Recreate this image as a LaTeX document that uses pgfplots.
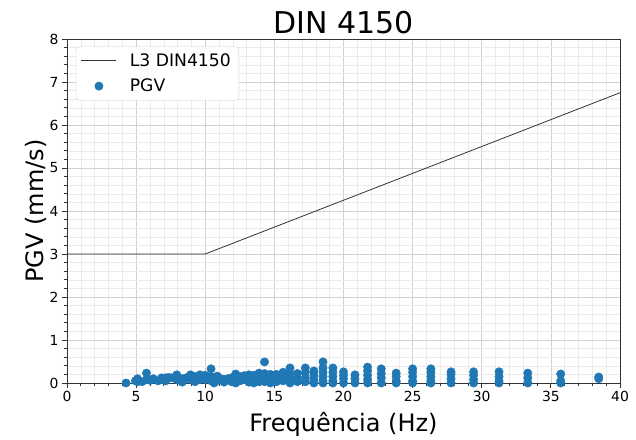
\documentclass[border=0pt]{standalone}
\usepackage{pgfplots}
\pgfplotsset{compat=1.18}
\usepackage{pgfplotstable}
\usepackage{fontspec}
\setmainfont{DejaVu Sans}
\definecolor{mplblue}{HTML}{1F77B4}
\pgfplotsset{
  lineleg/.style={legend image code/.code={\draw[##1] (0bp,0bp) -- (35bp,0bp);}},
  markleg/.style={legend image code/.code={\path[draw=none,fill=none] (0bp,0bp) -- (35bp,0bp); \draw[##1, only marks] plot coordinates {(17.5bp,0bp)};}},
}
\pgfplotstableread{
x y
38.46 0.14
38.46 0.10
35.71 0.21
35.71 0.05
35.71 0.00
33.33 0.23
33.33 0.12
33.33 0.00
31.25 0.26
31.25 0.15
31.25 0.05
31.25 0.00
29.41 0.26
29.41 0.18
29.41 0.08
29.41 0.00
27.78 0.26
27.78 0.20
27.78 0.10
27.78 0.00
26.32 0.33
26.32 0.25
26.32 0.15
26.32 0.05
26.32 0.00
25.00 0.33
25.00 0.25
25.00 0.15
25.00 0.05
25.00 0.00
23.81 0.23
23.81 0.15
23.81 0.05
23.81 0.00
22.73 0.33
22.73 0.22
22.73 0.12
22.73 0.00
21.74 0.37
21.74 0.28
21.74 0.18
21.74 0.08
21.74 0.00
20.83 0.19
20.83 0.10
20.83 0.00
20.00 0.26
20.00 0.18
20.00 0.10
20.00 0.00
19.23 0.35
19.23 0.25
19.23 0.15
19.23 0.05
19.23 0.00
18.52 0.49
18.52 0.35
18.52 0.25
18.52 0.15
18.52 0.05
18.52 0.00
17.86 0.28
17.86 0.18
17.86 0.08
17.86 0.00
17.24 0.35
17.24 0.25
17.24 0.12
17.24 0.03
16.67 0.22
16.67 0.12
16.67 0.03
16.13 0.35
16.13 0.22
16.13 0.10
16.13 0.00
15.63 0.25
15.63 0.15
15.63 0.05
15.15 0.20
15.15 0.10
15.15 0.03
14.71 0.20
14.71 0.10
14.71 0.00
14.29 0.49
14.29 0.22
14.29 0.12
14.29 0.03
13.89 0.23
13.89 0.12
13.89 0.03
13.51 0.18
13.51 0.08
13.51 0.00
13.16 0.19
13.16 0.10
13.16 0.02
12.82 0.17
12.82 0.08
12.50 0.15
12.50 0.05
12.20 0.21
12.20 0.10
12.20 0.00
11.90 0.12
11.90 0.03
11.63 0.10
11.36 0.08
11.36 0.02
11.11 0.10
10.87 0.16
10.87 0.06
10.64 0.12
10.64 0.00
10.42 0.33
10.42 0.15
10.42 0.05
10.20 0.10
10.00 0.18
10.00 0.08
9.62 0.19
9.62 0.08
9.26 0.15
9.26 0.03
8.93 0.19
8.93 0.08
8.62 0.12
8.33 0.10
8.33 0.02
7.94 0.19
7.94 0.08
7.58 0.12
7.35 0.13
7.14 0.12
7.14 0.05
6.85 0.12
6.58 0.05
6.25 0.10
6.02 0.06
5.75 0.23
5.75 0.08
5.43 0.03
5.10 0.10
5.10 0.03
4.95 0.05
4.27 0.00
}\pgvdata
\begin{document}
\begin{tikzpicture}
\begin{axis}[
  at={(0,0)}, anchor=south west,
  scale only axis, width=553bp, height=344bp,
  xmin=0, xmax=40, ymin=0, ymax=8,
  xtick={0,5,...,40}, ytick={0,1,...,8},
  minor x tick num=4, minor y tick num=4,
  grid=both,
  major grid style={draw=black!18, line width=0.6bp},
  minor grid style={draw=black!8, line width=0.5bp},
  tick align=outside, xtick pos=left, ytick pos=left,
  major tick length=5bp, minor tick length=3bp,
  tick style={black!80, line width=0.8bp},
  axis line style={black!80, line width=0.8bp},
  /pgf/number format/assume math mode=true,
  ticklabel style={font=\fontsize{13.9bp}{16bp}\selectfont},
  xlabel={Frequência (Hz)}, ylabel={PGV (mm/s)},
  xlabel style={font=\fontsize{24bp}{28bp}\selectfont, yshift=-3bp},
  ylabel style={font=\fontsize{24bp}{28bp}\selectfont, yshift=-4bp},
  title={DIN 4150},
  title style={font=\fontsize{30bp}{34bp}\selectfont, yshift=-4bp},
  legend style={at={(0.016,0.978)}, anchor=north west,
    font=\fontsize{17.2bp}{20bp}\selectfont,
    draw=black!20, rounded corners=3bp, fill=white,
    row sep=7bp, inner xsep=5bp, inner ysep=5bp,
    nodes={inner xsep=3bp},
    /tikz/every odd column/.append style={column sep=10bp}},
  legend cell align=left,
  clip=false,
]
\addplot[black!80, line width=0.8bp, lineleg]
  coordinates {(0,3) (10,3) (40,6.75)};
\addlegendentry{L3 DIN4150}
\addplot[only marks, mark=*, mark size=4.2bp, color=mplblue, mark options={draw=mplblue, fill=mplblue}, markleg]
  table[x=x, y=y] {\pgvdata};
\addlegendentry{PGV}
\end{axis}
\path[use as bounding box] (-67bp,-55bp) rectangle (569bp,383bp);
\end{tikzpicture}
\end{document}
